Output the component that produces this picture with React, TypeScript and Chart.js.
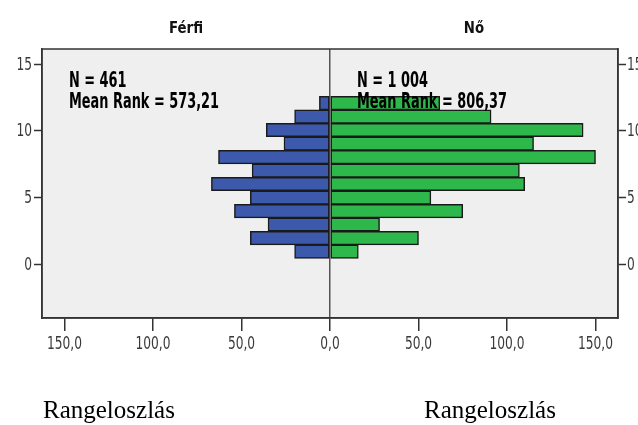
import React, { useEffect, useRef } from "react";
import { Chart, registerables } from "chart.js";

Chart.register(...registerables);

// Rank bins (bin midpoints on the rank axis, bottom to top)
const binCenters = [0.94, 1.95, 2.97, 3.98, 4.99, 6.01, 7.02, 8.03, 9.04, 10.06, 11.07, 12.08];
// Counts per bin, bottom to top
const maleCounts = [20, 45, 35, 54, 45, 67, 44, 63, 26, 36, 20, 6];
const femaleCounts = [16, 50, 28, 75, 57, 110, 107, 150, 115, 143, 91, 62];

const panelTitles = ["Férfi", "Nő"];
const maleStats = ["N = 461", "Mean Rank = 573,21"];
const femaleStats = ["N = 1 004", "Mean Rank = 806,37"];
const xTicks = [-150, -100, -50, 0, 50, 100, 150];
const yTicks = [0, 5, 10, 15];
const axisLabel = "Rangeloszlás";

const SANS = "'DejaVu Sans', sans-serif";

function drawCondensed(ctx: CanvasRenderingContext2D, text: string, x: number, y: number, align: CanvasTextAlign, sx: number) {
  ctx.save();
  ctx.translate(x, y);
  ctx.scale(sx, 1);
  ctx.textAlign = align;
  ctx.fillText(text, 0, 0);
  ctx.restore();
}

const fmtX = (v: number) => Math.abs(v).toFixed(1).replace(".", ",");

const panelPlugin = {
  id: "panelDeco",
  beforeDraw(chart: any) {
    const { ctx, chartArea } = chart;
    ctx.save();
    ctx.fillStyle = "#efefef";
    ctx.fillRect(chartArea.left, chartArea.top, chartArea.right - chartArea.left, chartArea.bottom - chartArea.top);
    ctx.restore();
  },
  afterDatasetsDraw(chart: any) {
    const { ctx, chartArea, scales } = chart;
    const cx = scales.x.getPixelForValue(0);
    ctx.save();
    // frame
    ctx.strokeStyle = "#333";
    ctx.lineWidth = 1.5;
    ctx.strokeRect(chartArea.left, chartArea.top, chartArea.right - chartArea.left, chartArea.bottom - chartArea.top);

    ctx.textBaseline = "alphabetic";
    // panel titles
    ctx.fillStyle = "#111";
    ctx.font = `bold 15px ${SANS}`;
    const sT = 34 / ctx.measureText(panelTitles[0]).width;
    drawCondensed(ctx, panelTitles[0], (chartArea.left + cx) / 2, 33, "center", sT);
    drawCondensed(ctx, panelTitles[1], (cx + chartArea.right) / 2, 33, "center", sT);

    // stats
    ctx.fillStyle = "#000";
    ctx.font = `bold 21px ${SANS}`;
    const sS = 150 / ctx.measureText(maleStats[1]).width;
    const off = 27;
    drawCondensed(ctx, maleStats[0], chartArea.left + off, 87, "left", sS);
    drawCondensed(ctx, maleStats[1], chartArea.left + off, 108, "left", sS);
    drawCondensed(ctx, femaleStats[0], cx + off, 87, "left", sS);
    drawCondensed(ctx, femaleStats[1], cx + off, 108, "left", sS);

    // tick labels
    ctx.fillStyle = "#3a3a3a";
    ctx.font = `17px ${SANS}`;
    const sK = 35 / ctx.measureText("150,0").width;
    xTicks.forEach((v) => {
      drawCondensed(ctx, fmtX(v), scales.x.getPixelForValue(v), 349, "center", sK);
    });
    ctx.textBaseline = "middle";
    yTicks.forEach((v) => {
      const py = scales.y.getPixelForValue(v) + 1;
      drawCondensed(ctx, String(v), chartArea.left - 10, py, "right", sK);
      drawCondensed(ctx, String(v), chartArea.right + 9, py, "left", sK);
    });
    ctx.restore();
  },
};

export default function App() {
  const ref = useRef<HTMLCanvasElement | null>(null);

  useEffect(() => {
    if (!ref.current) return;
    const yScaleBase = (position: string) => ({
      type: "linear" as const,
      position,
      min: -4.04,
      max: 16.14,
      offset: false,
      afterBuildTicks: (s: any) => {
        s.ticks = yTicks.map((v) => ({ value: v }));
      },
      ticks: { display: false },
      grid: { offset: false, drawOnChartArea: false, tickLength: 8, tickColor: "#333", tickWidth: 1.5 },
      border: { display: true, color: "#333", width: 1.5 },
    });
    const chart = new Chart(ref.current, {
      type: "bar",
      data: {
        datasets: [
          {
            label: "Férfi",
            data: binCenters.map((y, i) => ({ x: -maleCounts[i], y })),
            backgroundColor: "#3d59ab",
            borderColor: "#1a1a1a",
            borderWidth: 1.5,
            borderSkipped: false,
            barPercentage: 1,
            categoryPercentage: 1,
          },
          {
            label: "Nő",
            data: binCenters.map((y, i) => ({ x: femaleCounts[i], y })),
            backgroundColor: "#2eb84b",
            borderColor: "#1a1a1a",
            borderWidth: 1.5,
            borderSkipped: false,
            barPercentage: 1,
            categoryPercentage: 1,
          },
        ],
      },
      options: {
        indexAxis: "y",
        responsive: false,
        animation: false,
        layout: { padding: { top: 49, left: 0, right: 0, bottom: 0 } },
        plugins: { legend: { display: false }, tooltip: { enabled: false }, title: { display: false } },
        scales: {
          x: {
            type: "linear",
            min: -162.7,
            max: 162.7,
            stacked: true,
            offset: false,
            afterBuildTicks: (s: any) => {
              s.ticks = xTicks.map((v) => ({ value: v }));
            },
            afterFit: (s: any) => {
              s.height = 107;
            },
            ticks: { display: false },
            grid: {
              offset: false,
              drawOnChartArea: true,
              color: (c: any) => (c.tick && c.tick.value === 0 ? "#555" : "rgba(0,0,0,0)"),
              lineWidth: 1.5,
              tickColor: "#333",
              tickWidth: 1.5,
              tickLength: 13,
            },
            border: { display: true, color: "#333", width: 1.5 },
          },
          y: {
            ...yScaleBase("left"),
            stacked: true,
            afterFit: (s: any) => {
              s.width = 42;
            },
          },
          y2: {
            ...yScaleBase("right"),
            afterFit: (s: any) => {
              s.width = 20;
            },
          },
        } as any,
      },
      plugins: [panelPlugin],
    } as any);
    return () => chart.destroy();
  }, []);

  const labelStyle: React.CSSProperties = {
    position: "absolute",
    top: 397,
    fontFamily: "'Liberation Serif', 'Times New Roman', serif",
    fontSize: 25,
    lineHeight: 1,
    color: "#000",
    whiteSpace: "nowrap",
  };

  return (
    <div style={{ position: "fixed", left: 0, top: 0, width: 638, height: 425, background: "#fff", overflow: "hidden" }}>
      <canvas ref={ref} width={638} height={425} style={{ display: "block", width: 638, height: 425 }} />
      <div style={{ ...labelStyle, left: 43 }}>{axisLabel}</div>
      <div style={{ ...labelStyle, left: 424 }}>{axisLabel}</div>
    </div>
  );
}
